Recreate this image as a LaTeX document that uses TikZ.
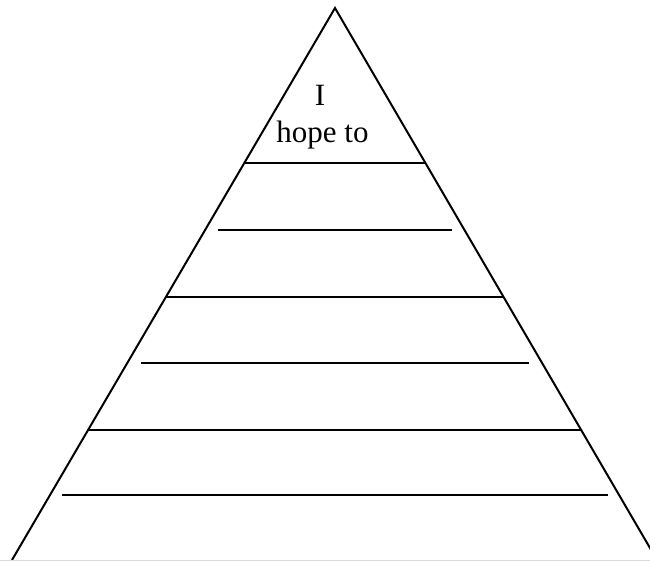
\documentclass[tikz,border=0pt]{standalone}
\usepackage{fontspec}
\setmainfont{Liberation Serif}
\usetikzlibrary{calc}
\tikzset{edge/.style={line width=1.5pt},rule/.style={line width=1.5pt},every node/.style={font=\fontsize{23.25}{28}\selectfont,inner sep=0pt}}
\begin{document}
\begin{tikzpicture}[x=0.75pt,y=-0.75pt]
\useasboundingbox (0,0) rectangle (650,561);
\begin{scope}
\clip (0,0) rectangle (650,561);
\coordinate (T) at (335,8);\coordinate (L) at (12,560);\coordinate (R) at (657,560);
\draw[edge] (L)--(T)--(R);
\draw[gray!30,line width=1pt] (0,560.5)--(650,560.5);
% bands touching the sides
\foreach \t in {0.2808,0.5236,0.7645}{\draw[rule] ($(T)!\t!(L)$)--($(T)!\t!(R)$);}
% writing lines
\draw[rule] (218,230)--(452,230);
\draw[rule] (141,363)--(529,363);
\draw[rule] (62,495)--(608,495);
\end{scope}
\node[anchor=base] (first) at (320,105){I};
\node[anchor=base] (second) at (322.5,142){hope to};
\end{tikzpicture}
\end{document}
